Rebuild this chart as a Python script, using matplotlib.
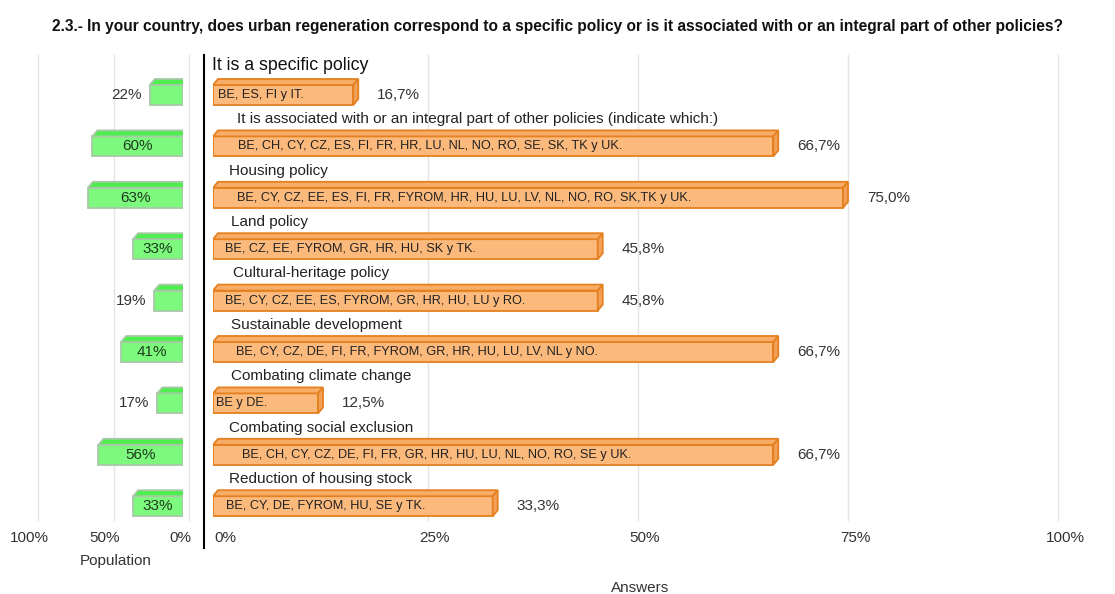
import matplotlib
matplotlib.use("Agg")
import matplotlib.pyplot as plt
from matplotlib.lines import Line2D
from matplotlib.patches import Polygon
from matplotlib.transforms import ScaledTranslation
import numpy as np

plt.rcParams["font.family"] = ["Liberation Sans", "DejaVu Sans"]

title = ("2.3.- In your country, does urban regeneration correspond to a specific policy "
         "or is it associated with or an integral part of other policies?")
categories = [
    "It is a specific policy",
    "It is associated with or an integral part of other policies (indicate which:)",
    "Housing policy",
    "Land policy",
    "Cultural-heritage policy",
    "Sustainable development",
    "Combating climate change",
    "Combating social exclusion",
    "Reduction of housing stock",
]
countries = [
    "BE, ES, FI y IT.",
    "BE, CH, CY, CZ, ES, FI, FR, HR, LU, NL, NO, RO, SE, SK, TK y UK.",
    "BE, CY, CZ, EE, ES, FI, FR, FYROM, HR, HU, LU, LV, NL, NO, RO, SK,TK y UK.",
    "BE, CZ, EE, FYROM, GR, HR, HU, SK y TK.",
    "BE, CY, CZ, EE, ES, FYROM, GR, HR, HU, LU y RO.",
    "BE, CY, CZ, DE, FI, FR, FYROM, GR, HR, HU, LU, LV, NL y NO.",
    "BE y DE.",
    "BE, CH, CY, CZ, DE, FI, FR, GR, HR, HU, LU, NL, NO, RO, SE y UK.",
    "BE, CY, DE, FYROM, HU, SE y TK.",
]
answers = [16.7, 66.7, 75.0, 45.8, 45.8, 66.7, 12.5, 66.7, 33.3]
answer_labels = ["16,7%", "66,7%", "75,0%", "45,8%", "45,8%", "66,7%", "12,5%", "66,7%", "33,3%"]
population = [22, 60, 63, 33, 19, 41, 17, 56, 33]
pop_ticks = [100, 50, 0]
ans_ticks = [0, 25, 50, 75, 100]

W, H = 1115, 594
fig = plt.figure(figsize=(W / 100, H / 100), dpi=100)
fig.patch.set_facecolor("white")

# layout in pixels
top_px, bot_px = 55, 520
row0_px, row_step = 95, 51.4
ylim = ((bot_px - row0_px) / row_step, (top_px - row0_px) / row_step)
bar_h = 20 / row_step
depth = (5, 6)
text_pad = [5, 25, 24, 12, 12, 23, 3, 29, 13]   # px from bar start
cat_pad = [-1, 24, 16, 18, 20, 18, 18, 16, 16]


def px_axes(left, right):
    return fig.add_axes([left / W, 1 - bot_px / H, (right - left) / W, (bot_px - top_px) / H])


def shift(dx, dy=0):
    return ScaledTranslation(dx / 100, dy / 100, fig.dpi_scale_trans)


def bar3d(ax, x0, x1, yc, h, front, top, side, edge):
    pts = ax.transData.transform([(x0, yc - h / 2), (x1, yc + h / 2)])
    L, R = sorted(pts[:, 0])
    B, T = sorted(pts[:, 1])
    dx, dy = depth
    faces = [
        ([(L, B), (R, B), (R, T), (L, T)], front),
        ([(L, T), (R, T), (R + dx, T + dy), (L + dx, T + dy)], top),
        ([(R, B), (R + dx, B + dy), (R + dx, T + dy), (R, T)], side),
    ]
    inv = ax.transData.inverted()
    for poly, c in faces:
        ax.add_patch(Polygon(inv.transform(poly), closed=True, facecolor=c,
                             edgecolor=edge, linewidth=1.3, zorder=3))


def gridline(ax, t, dx):
    ax.plot([t, t], [0, 1], color="#e4e4e4", lw=1, zorder=0, clip_on=False,
            transform=ax.get_xaxis_transform() + shift(dx))


y = np.arange(len(categories))

# --- answers (right) ---
ax = px_axes(213, 1053)
ax.set_xlim(0, 100)
ax.set_ylim(*ylim)
for s in ax.spines.values():
    s.set_visible(False)
ax.set_yticks([])
ax.set_xticks(ans_ticks)
ax.set_xticklabels([f"{t}%" for t in ans_ticks], fontsize=11, color="#333333")
ax.tick_params(axis="x", length=0, pad=8)
for lbl in ax.get_xticklabels():
    lbl.set_transform(lbl.get_transform() + shift(12))
for t in ans_ticks[1:]:
    gridline(ax, t, 5)

for i, (v, lab, cat, ctry) in enumerate(zip(answers, answer_labels, categories, countries)):
    bar3d(ax, 0, v, y[i], bar_h, "#fbb97c", "#f7ad68", "#f2a05a", "#e5801f")
    ax.text(0, y[i], ctry, fontsize=9.2, va="center", ha="left", color="#222222", zorder=4,
            transform=ax.transData + shift(text_pad[i]))
    ax.text(v, y[i], lab, fontsize=11, va="center", ha="left", color="#333333",
            transform=ax.transData + shift(24))
    if i == 0:
        ax.text(0, y[i] - 0.58, cat, fontsize=12.8, va="center", ha="left", color="#111111",
                transform=ax.transData + shift(cat_pad[i]))
    else:
        ax.text(0, y[i] - 0.53, cat, fontsize=11, va="center", ha="left", color="#222222",
                transform=ax.transData + shift(cat_pad[i]))

# --- population (left) ---
axl = px_axes(32, 183)
axl.set_xlim(100, 0)
axl.set_ylim(*ylim)
for s in axl.spines.values():
    s.set_visible(False)
axl.set_yticks([])
axl.set_xticks(pop_ticks)
axl.set_xticklabels([f"{t}%" for t in pop_ticks], fontsize=11, color="#333333")
axl.tick_params(axis="x", length=0, pad=8)
for lbl in axl.get_xticklabels():
    lbl.set_transform(lbl.get_transform() + shift(-3))
for t in pop_ticks:
    gridline(axl, t, 6)

for i, v in enumerate(population):
    bar3d(axl, v, 0, y[i], bar_h, "#7dfa7d", "#4fee4f", "#45d845", "#a8c8a8")
    if v >= 30:
        axl.text(v / 2, y[i], f"{v}%", fontsize=11, va="center", ha="center",
                 color="#1e3a1e", zorder=4)
    else:
        axl.text(v, y[i], f"{v}%", fontsize=11, va="center", ha="right",
                 color="#333333", transform=axl.transData + shift(-8))

# separator and captions
fig.add_artist(Line2D([204 / W, 204 / W], [1 - 55 / H, 1 - 548 / H], color="black", lw=1.5))
fig.text(557 / W, 1 - 27 / H, title, fontsize=11.2, fontweight="bold", ha="center", va="center",
         color="#111111")
fig.text(116 / W, 1 - 561 / H, "Population", fontsize=11, ha="center", va="center", color="#333333")
fig.text(640 / W, 1 - 588 / H, "Answers", fontsize=11, ha="center", va="center", color="#333333")

fig.savefig("out.png", dpi=100)
